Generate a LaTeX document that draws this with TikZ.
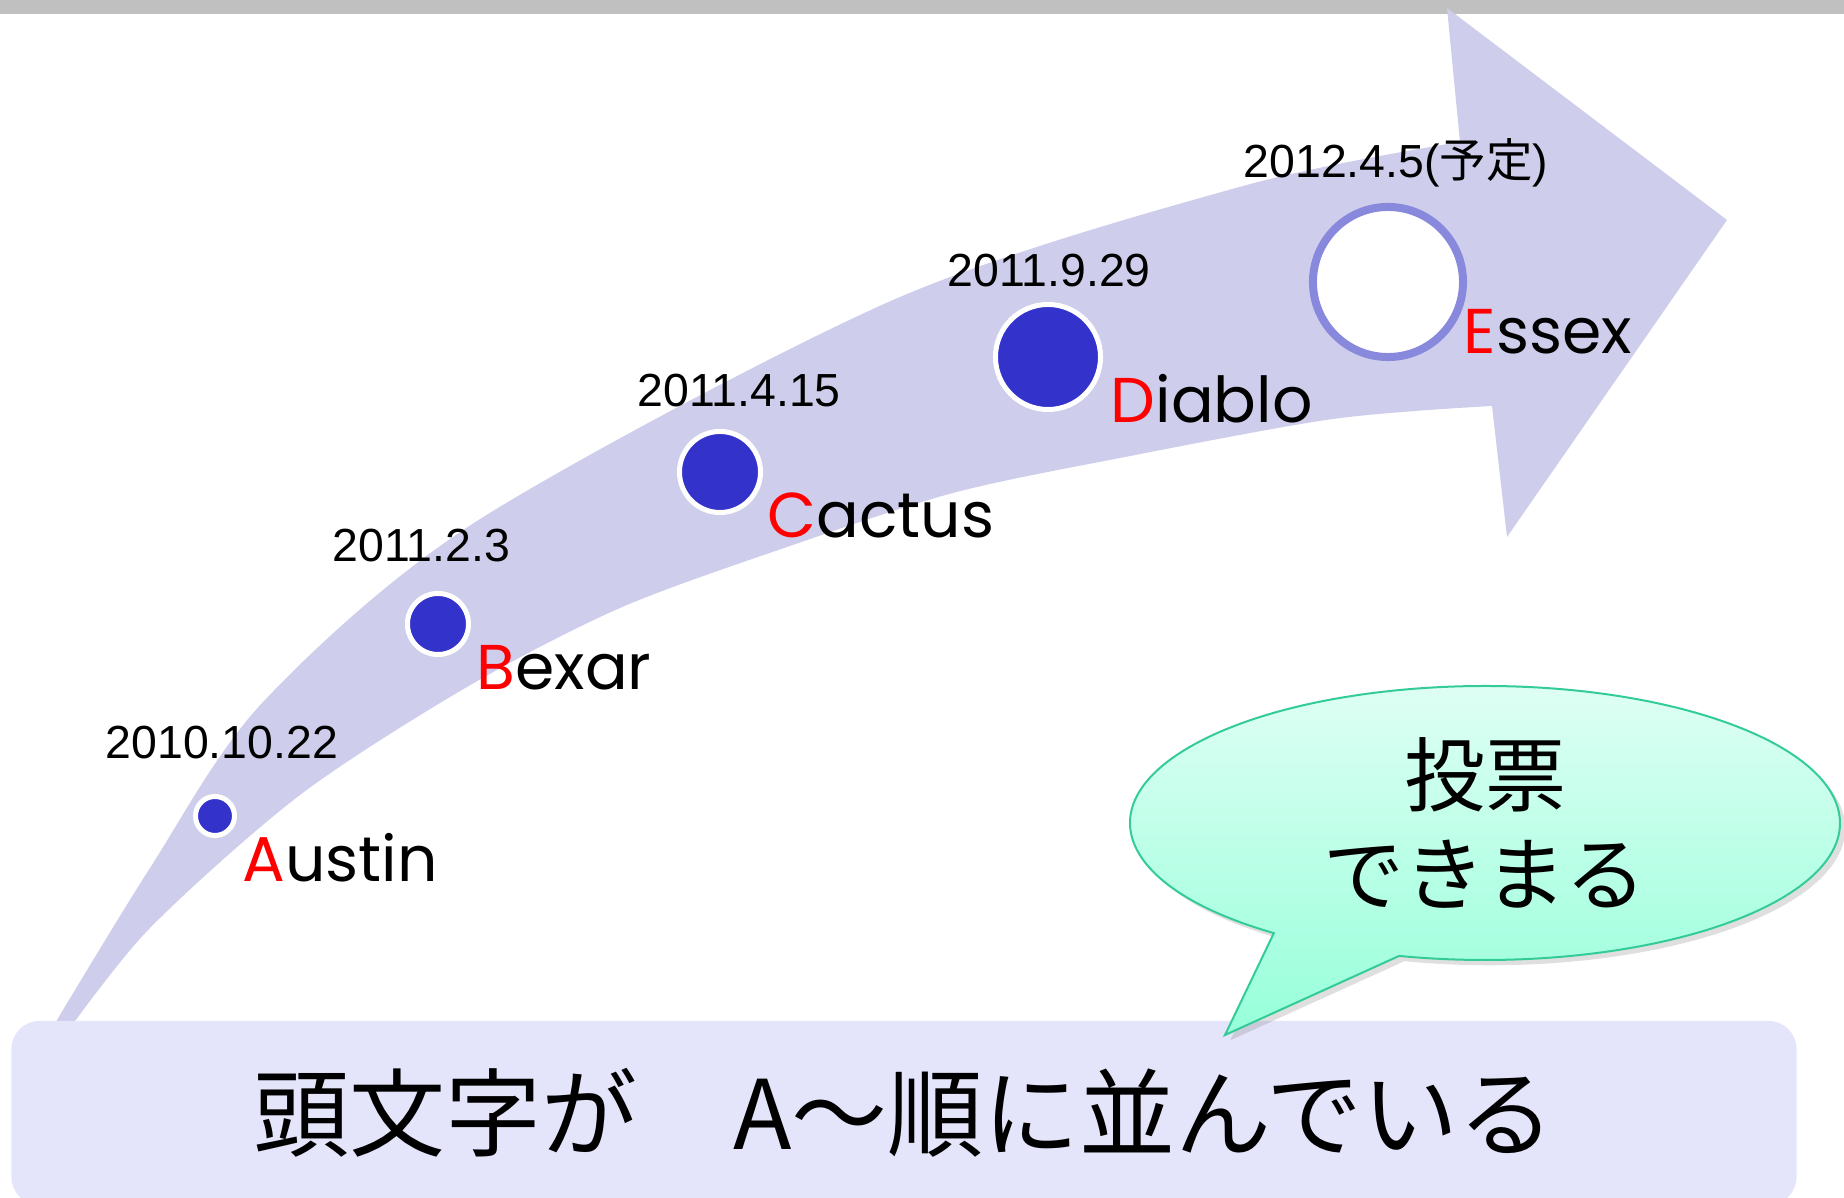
\documentclass[tikz,border=0pt]{standalone}
\usepackage{fontspec}
\setmainfont{Liberation Sans}
\newfontfamily\namefont{Poppins}
\newfontfamily\jpfont{Noto Sans CJK JP}
\usetikzlibrary{positioning,shadows}
\definecolor{barcol}{RGB}{192,192,192}
\definecolor{bandcol}{RGB}{206,206,236}
\definecolor{dotblue}{RGB}{51,51,204}
\definecolor{ringcol}{RGB}{136,136,221}
\definecolor{boxcol}{RGB}{228,228,250}
\definecolor{bubtop}{RGB}{226,255,245}
\definecolor{bubbot}{RGB}{150,255,218}
\definecolor{bubline}{RGB}{51,204,153}

\begin{document}
\begin{tikzpicture}[x=0.01cm,y=-0.01cm,
    date node/.style={anchor=base west,inner sep=0pt,font=\fontsize{13.2pt}{15pt}\selectfont},
    name node/.style={anchor=base west,inner sep=0pt,font=\namefont\fontsize{18pt}{20pt}\selectfont},
    main dot/.style={circle,fill=dotblue,draw=white,line width=0.05cm,inner sep=0pt},
    next dot/.style={circle,fill=white,draw=ringcol,line width=0.08cm,inner sep=0pt,
      minimum size=1.5cm,drop shadow={opacity=0.3,shadow xshift=0.4pt,shadow yshift=-1pt}},
    note box/.style={fill=boxcol,rounded corners=0.28cm,minimum width=17.84cm,
      minimum height=1.84cm,inner sep=0pt,font=\jpfont\fontsize{27.3pt}{29pt}\selectfont},
    bubble/.style={draw=bubline,line width=0.02cm,top color=bubtop,bottom color=bubbot,
      drop shadow={opacity=0.25,shadow xshift=1.5pt,shadow yshift=-1.5pt}}]
  \useasboundingbox (0,0) rectangle (1844,1198);
  \fill[barcol] (0,0) rectangle (1844,14);
  \fill[bandcol] plot[smooth] coordinates {(48,1035) (150,868) (263,702) (477,521)
      (893,300) (1243,186) (1460,142)}
    -- (1447,8) -- (1727,220) -- (1507,537) -- (1492,406)
    -- plot[smooth] coordinates {(1492,406) (1333,419) (1120,458) (953,493) (787,547)
      (620,608) (467,687) (300,795) (150,928) (65,1035)} -- cycle;

  \node[main dot,minimum size=0.39cm] (dA) at (215,816) {};
  \node[main dot,minimum size=0.61cm] (dB) at (438,624) {};
  \node[main dot,minimum size=0.81cm] (dC) at (720,472) {};
  \node[main dot,minimum size=1.05cm] (dD) at (1048,357) {};
  \node[next dot] (dE) at (1388,282) {};

  \node[date node] (tA) at (105,759) {2010.10.22};
  \node[date node] (tB) at (332,562) {2011.2.3};
  \node[date node] (tC) at (637,407) {2011.4.15};
  \node[date node] (tD) at (947,287) {2011.9.29};
  \node[date node] (tE) at (1243,178) {2012.4.5({\jpfont 予定})};

  \node[name node] (nA) at (242,882) {\textcolor{red}{A}ustin};
  \node[name node] (nB) at (476,690) {\textcolor{red}{B}exar};
  \node[name node] (nC) at (767,538) {\textcolor{red}{C}actus};
  \node[name node] (nD) at (1110,423) {\textcolor{red}{D}iablo};
  \node[name node] (nE) at (1463,354) {\textcolor{red}{E}ssex};

  \node[note box] (note) at (904,1113) {頭文字が　A～順に並んでいる};

  \coordinate (bub) at (1485,823);
  \coordinate (tail) at (1225,1035);
  \path[bubble] (tail) -- ([shift={(126.5:355 and 137)}]bub)
    arc[start angle=126.5,end angle=464,x radius=355,y radius=137] -- cycle;
  \node[align=center,inner sep=0pt,font=\jpfont\fontsize{23pt}{27.9pt}\selectfont]
    (vote) at (bub) {投票\\できまる};
\end{tikzpicture}
\end{document}
